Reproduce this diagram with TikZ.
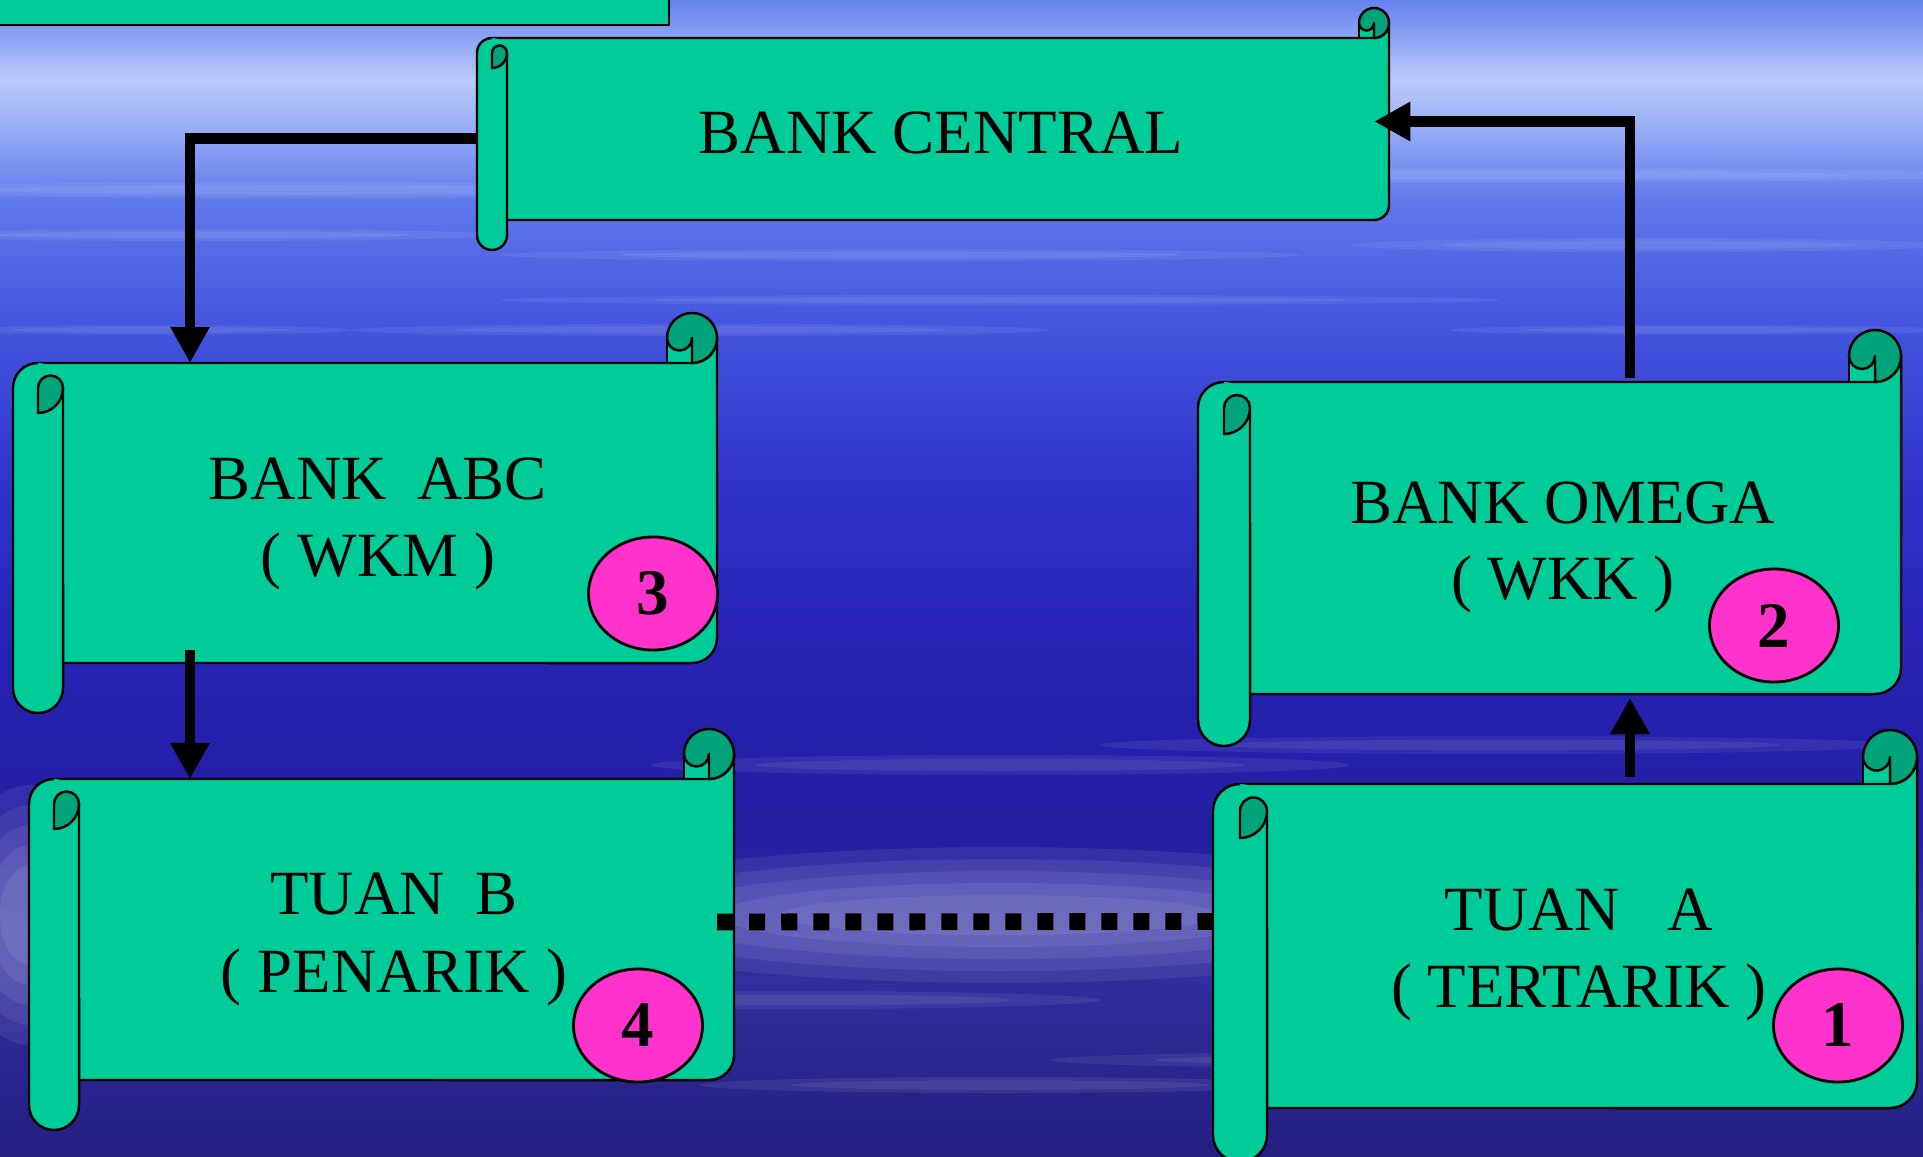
\documentclass[tikz,border=0pt]{standalone}
\usepackage{fontspec}
\setmainfont{Liberation Serif}
\usetikzlibrary{arrows.meta,shapes.geometric,calc}
\definecolor{scrollgreen}{RGB}{0,204,153}
\definecolor{curlgreen}{RGB}{0,163,122}
\definecolor{badgepink}{RGB}{255,51,204}
\definecolor{bgA}{RGB}{100,130,238}
\definecolor{bgB}{RGB}{188,202,250}
\definecolor{bgC}{RGB}{150,172,246}
\definecolor{bgD}{RGB}{95,122,236}
\definecolor{bgE}{RGB}{68,86,222}
\definecolor{bgF}{RGB}{48,52,204}
\definecolor{bgG}{RGB}{38,34,180}
\definecolor{bgH}{RGB}{36,30,160}
\definecolor{bgI}{RGB}{52,50,165}
\definecolor{bgJ}{RGB}{36,30,128}
\tikzset{
  scrollfill/.style={fill=scrollgreen},
  scrollline/.style={draw=black, line width=0.7pt, line join=round},
  curl/.style={fill=curlgreen, draw=black, line width=0.7pt, line join=round},
  badge/.style={ellipse, fill=badgepink, draw=black, line width=0.8pt,
    minimum width=1.29cm, minimum height=1.13cm, inner sep=0pt,
    font=\fontsize{18.5}{20}\selectfont\bfseries},
  lbl/.style={anchor=base, inner sep=0pt, font=\fontsize{17.9}{21}\selectfont},
  flow/.style={line width=3.1pt, -{Triangle[length=0.36cm,width=0.37cm]}},
  dotline/.style={line width=4.8pt, dash pattern=on 0.16cm off 0.16cm},
  streak/.style={fill=white, opacity=0.07},
}
% #1 name, #2 x0, #3 y0, #4 x1, #5 y1, #6 roll width (pixels, y downwards)
\newcommand\drawscroll[6]{%
  \pgfmathsetmacro\ScXa{#2}%
  \pgfmathsetmacro\ScXb{#4}%
  \pgfmathsetmacro\ScR{#6/200}%
  \pgfmathsetmacro\ScQ{#6/400}%
  \pgfmathsetmacro\ScXL{#2+#6/2}%
  \pgfmathsetmacro\ScXLL{#2+#6}%
  \pgfmathsetmacro\ScXR{#4-#6/2}%
  \pgfmathsetmacro\ScXRR{#4-#6}%
  \pgfmathsetmacro\ScYT{#3+#6}%
  \pgfmathsetmacro\ScYTm{#3+#6/2}%
  \pgfmathsetmacro\ScYL{#3+#6*1.5}%
  \pgfmathsetmacro\ScYB{#5-#6}%
  \pgfmathsetmacro\ScYBm{#5-#6*1.5}%
  \pgfmathsetmacro\ScYE{#5-#6/2}%
  \pgfmathsetmacro\ScW{(#4-#2)/100}%
  \pgfmathsetmacro\ScHt{(#5-#3-2*#6)/100}%
  % body
  \fill[scrollfill] (\ScXL,\ScYT) -- (\ScXRR,\ScYT) -- (\ScXRR,\ScYTm) -- (\ScXb,\ScYTm)
     -- (\ScXb,\ScYBm) arc[start angle=0,end angle=-90,radius=\ScR cm]
     -- (\ScXLL,\ScYB) -- (\ScXLL,\ScYL) -- cycle;
  \draw[scrollline] (\ScXL,\ScYT) -- (\ScXR,\ScYT) arc[start angle=-90,end angle=0,radius=\ScR cm]
     -- (\ScXb,\ScYBm) arc[start angle=0,end angle=-90,radius=\ScR cm] -- (\ScXLL,\ScYB);
  \draw[scrollline] (\ScXRR,\ScYTm) -- (\ScXRR,\ScYT);
  % top-right curl
  \path[curl] (\ScXRR,\ScYTm) arc[start angle=180,end angle=0,radius=\ScR cm]
     arc[start angle=0,end angle=-90,radius=\ScR cm] -- (\ScXR,\ScYTm)
     arc[start angle=0,end angle=-180,radius=\ScQ cm] -- cycle;
  % left roll
  \fill[scrollfill] (\ScXL,\ScYT) arc[start angle=90,end angle=180,radius=\ScR cm]
     -- (\ScXa,\ScYE) arc[start angle=180,end angle=360,radius=\ScR cm]
     -- (\ScXLL,\ScYL) arc[start angle=0,end angle=90,radius=\ScR cm] -- cycle;
  \draw[scrollline] (\ScXL,\ScYT) arc[start angle=90,end angle=180,radius=\ScR cm]
     -- (\ScXa,\ScYE) arc[start angle=180,end angle=360,radius=\ScR cm]
     -- (\ScXLL,\ScYL);
  % left curl
  \path[curl] (\ScXL,\ScYL) arc[start angle=180,end angle=0,radius=\ScQ cm]
     arc[start angle=0,end angle=-90,radius=\ScR cm] -- cycle;
  % named body
  \node[inner sep=0pt, outer sep=0pt, minimum width=\ScW cm, minimum height=\ScHt cm]
     (#1) at ({(#2+#4)/2},{(#3+#5)/2}) {};
}
\begin{document}
\begin{tikzpicture}[x=0.01cm, y=-0.01cm]
\useasboundingbox (0,0) rectangle (1923,1157);
\begin{scope}
\clip (0,0) rectangle (1923,1157);
% background bands
\shade[top color=bgA, bottom color=bgB] (0,0) rectangle (1923,80);
\shade[top color=bgB, bottom color=bgC] (0,80) rectangle (1923,130);
\shade[top color=bgC, bottom color=bgD] (0,130) rectangle (1923,200);
\shade[top color=bgD, bottom color=bgE] (0,200) rectangle (1923,320);
\shade[top color=bgE, bottom color=bgF] (0,320) rectangle (1923,480);
\shade[top color=bgF, bottom color=bgG] (0,480) rectangle (1923,650);
\shade[top color=bgG, bottom color=bgH] (0,650) rectangle (1923,840);
\shade[top color=bgH, bottom color=bgI] (0,840) rectangle (1923,930);
\shade[top color=bgI, bottom color=bgJ] (0,930) rectangle (1923,1160);
% streaks (soft, layered)
\foreach \sx/\sy/\rx/\ry in {300/190/450/8, 1500/175/500/7, 200/235/300/6, 900/255/400/6,
  1650/245/300/7, 700/330/350/6, 150/330/200/5, 1700/330/250/5, 1000/300/500/5,
  1000/765/350/10, 1500/745/400/9, 800/1000/300/9, 1000/1085/300/8, 1400/1060/350/8} {
  \fill[streak] (\sx,\sy) ellipse[x radius=\rx*0.01cm, y radius=\ry*0.01cm];
  \fill[streak] (\sx,\sy) ellipse[x radius=\rx*0.007cm, y radius=\ry*0.006cm];
}
\foreach \k in {1,...,5} {
  \fill[streak] (1000,915) ellipse[x radius=(520-60*\k)*0.01cm, y radius=(80-12*\k)*0.01cm];
  \fill[streak] (30,915) ellipse[x radius=(90-12*\k)*0.01cm, y radius=(150-20*\k)*0.01cm];
}
% top partial shape
\draw[scrollline, fill=scrollgreen] (-10,-10) rectangle (669,25);
\end{scope}

% scrolls
\drawscroll{central}{477}{8}{1389}{250}{30}
\drawscroll{abc}{13}{313}{717}{713}{50}
\drawscroll{omega}{1198}{330}{1901}{746}{52}
\drawscroll{tuanb}{29}{729}{734}{1130}{50}
\drawscroll{tuana}{1213}{730}{1917}{1162}{54}

% labels
\node[lbl] (central-t) at (941,153) {BANK CENTRAL};
\node[lbl] (abc-t1) at (378,499) {BANK\hspace{0.48em}ABC};
\node[lbl] (abc-t2) at (378,576) {( WKM )};
\node[lbl] (omega-t1) at (1563,523) {BANK OMEGA};
\node[lbl] (omega-t2) at (1563,599) {( WKK )};
\node[lbl] (tuanb-t1) at (394,914) {TUAN\hspace{0.49em}B};
\node[lbl] (tuanb-t2) at (394,992) {( PENARIK )};
\node[lbl] (tuana-t1) at (1579,930) {TUAN\hspace{0.76em}A};
\node[lbl] (tuana-t2) at (1579,1007) {( TERTARIK )};

% badges
\node[badge] (n3) at (653,593.5) {3};
\node[badge] (n2) at (1774,625.5) {2};
\node[badge] (n4) at (638,1025.5) {4};
\node[badge] (n1) at (1838,1025.5) {1};

% connectors
\coordinate (bendA) at (190,0);
\coordinate (bendB) at (1630,0);
\draw[flow] ($(central.west)+(0,9.5)$) -| (abc.north -| bendA);
\draw[flow] ($(abc.south -| bendA)+(0,-13)$) -- (tuanb.north -| bendA);
\draw[flow] ($(tuana.north -| bendB)+(0,-7)$) -- ($(omega.south -| bendB)+(0,4)$);
\draw[flow] ($(omega.north -| bendB)+(0,-4)$) |- ($(central.east)+(-15,-7.5)$);
\draw[dotline] ($(tuanb.east)+(-17,-7.5)$) -- ($(tuana.west)+(0,-24.5)$);
\end{tikzpicture}
\end{document}
